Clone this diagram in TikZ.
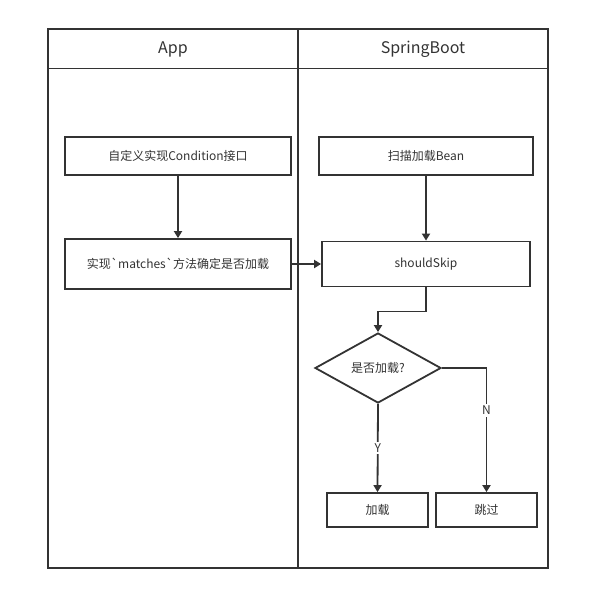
\documentclass[tikz,border=0pt]{standalone}
\usepackage{fontspec}
\setmainfont{Noto Sans CJK SC}
\usepackage{tikz}
\usetikzlibrary{arrows.meta,shapes.geometric}
\definecolor{ink}{HTML}{333333}
\tikzstyle{flow}=[draw=ink, line width=1.8pt, >={Triangle[length=7pt, width=8pt]}]
\tikzstyle{box}=[draw=ink, line width=1.8pt, text=ink, font=\fontsize{12}{14}\selectfont, inner sep=0pt]
\tikzstyle{lab}=[fill=white, text=ink, font=\fontsize{12}{14}\selectfont, inner sep=2pt]

\begin{document}
\begin{tikzpicture}[x=1pt, y=-1pt]
		   \useasboundingbox (0,0) rectangle (598,602);
		   % lanes
		   \draw[ink, line width=1.8pt] (48,29) rectangle (548,568);
		   \draw[ink, line width=1.8pt] (48,68.5) -- (548,68.5);
		   \draw[ink, line width=1.8pt] (298,29) -- (298,568);
		   \node[text=ink, font=\fontsize{16}{18}\selectfont] (app) at (173,49) {App};
		   \node[text=ink, font=\fontsize{16}{18}\selectfont] (boot) at (423,49) {SpringBoot};
		   % App
		   \node[box, minimum width=226pt, minimum height=38pt] (cond) at (178,156) {自定义实现Condition接口};
		   \node[box, minimum width=226pt, minimum height=50pt] (match) at (178,264) {实现\textasciigrave matches\textasciigrave 方法确定是否加载};
		   % SpringBoot
		   \node[box, minimum width=214pt, minimum height=38pt] (scan) at (426,156) {扫描加载Bean};
		   \node[box, minimum width=208pt, minimum height=45pt] (skip) at (426,264) {shouldSkip};
		   \node[box, shape=diamond, aspect=1.8, minimum width=126pt, minimum height=70pt] (dec) at (378,368) {是否加载?};
		   \node[box, minimum width=101pt, minimum height=34pt] (load) at (377.5,510) {加载};
		   \node[box, minimum width=101pt, minimum height=34pt] (jump) at (486.5,510) {跳过};
		   % connectors
		   \draw[flow, ->] (cond) -- (match);
		   \draw[flow, ->] (match) -- (skip);
		   \draw[flow, ->] (scan) -- (skip);
		   \draw[flow, ->] (skip.south) -- ++(0,24) -| (dec.north);
		   \draw[flow, ->] (dec.south) -- node[lab] (y) {Y} (load.north);
		   \draw[flow, ->] (dec.east) -| node[lab, pos=0.67] (n) {N} (jump.north);
	   \end{tikzpicture}
\end{document}
